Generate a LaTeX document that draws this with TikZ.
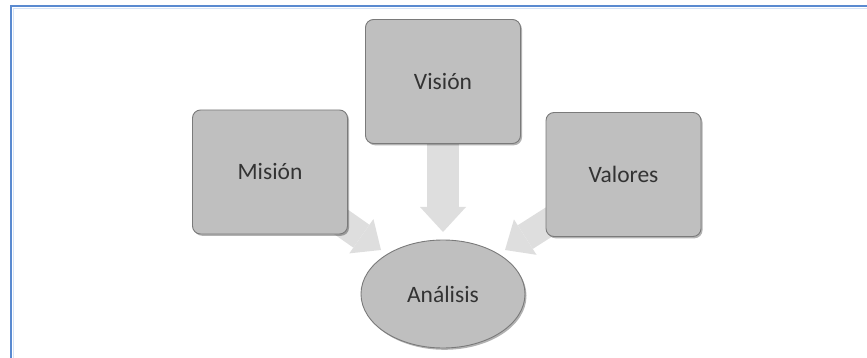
\documentclass[tikz,border=0pt]{standalone}
\usepackage{fontspec}
\setmainfont{Carlito}
\usetikzlibrary{shapes.geometric,shadows,arrows.meta,calc,backgrounds}
\definecolor{boxfill}{HTML}{BFBFBF}
\definecolor{boxline}{HTML}{7A7A7A}
\definecolor{arrowgray}{HTML}{DEDEDE}
\definecolor{txt}{HTML}{333333}
\definecolor{frameblue}{HTML}{5A8AD0}
\definecolor{frameglow}{HTML}{D5E3F6}
\begin{document}
\begin{tikzpicture}[x=1pt,y=-1pt,
  lbl/.style={text=txt, font=\fontsize{23.5}{28}\selectfont},
  box/.style={lbl, draw=boxline, line width=0.9pt, fill=boxfill, rounded corners=8pt,
    minimum width=155pt, minimum height=124pt, inner sep=0pt,
    drop shadow={shadow xshift=1.5pt, shadow yshift=-1.8pt, opacity=0.3, fill=black}},
  oval/.style={lbl, ellipse, draw=boxline, line width=0.9pt, fill=boxfill,
    minimum width=164pt, minimum height=108pt, inner sep=0pt,
    drop shadow={shadow xshift=1.5pt, shadow yshift=-1.8pt, opacity=0.3, fill=black}},
  blockarrow/.style={draw=arrowgray, line width=28pt,
    -{Triangle[width=42pt,length=24pt,line width=0pt]}},
  blockarrowv/.style={draw=arrowgray, line width=32pt,
    -{Triangle[width=46pt,length=25pt,line width=0pt]}},
  frame/.style={draw=frameblue, line width=2.2pt},
  glow/.style={draw=frameglow, line width=1.5pt}
]
\useasboundingbox (0,0) rectangle (867,358);
% frame
\draw[glow] (13.5,358) -- (13.5,8.5) -- (867,8.5);
\draw[frame] (11,358) -- (11,6) -- (867,6);

% nodes
\node[box] (mision) at (270,172) {Misión};
\node[box] (vision) at (443,81.5) {Visión};
\node[box] (valores) at (623.5,174.5) {Valores};
\node[oval] (analisis) at (443,294) {Análisis};

\coordinate (tipL) at ($(analisis.center)+(-62,-44)$);
\coordinate (tipR) at ($(analisis.center)+(62,-44)$);
\coordinate (tipV) at ($(analisis.center)+(0,-62)$);

\begin{pgfonlayer}{background}
\draw[blockarrow] (mision.center) -- (tipL);
\draw[blockarrow] (valores.center) -- (tipR);
\draw[blockarrowv] (vision.center) -- (tipV);
\end{pgfonlayer}
\end{tikzpicture}
\end{document}
